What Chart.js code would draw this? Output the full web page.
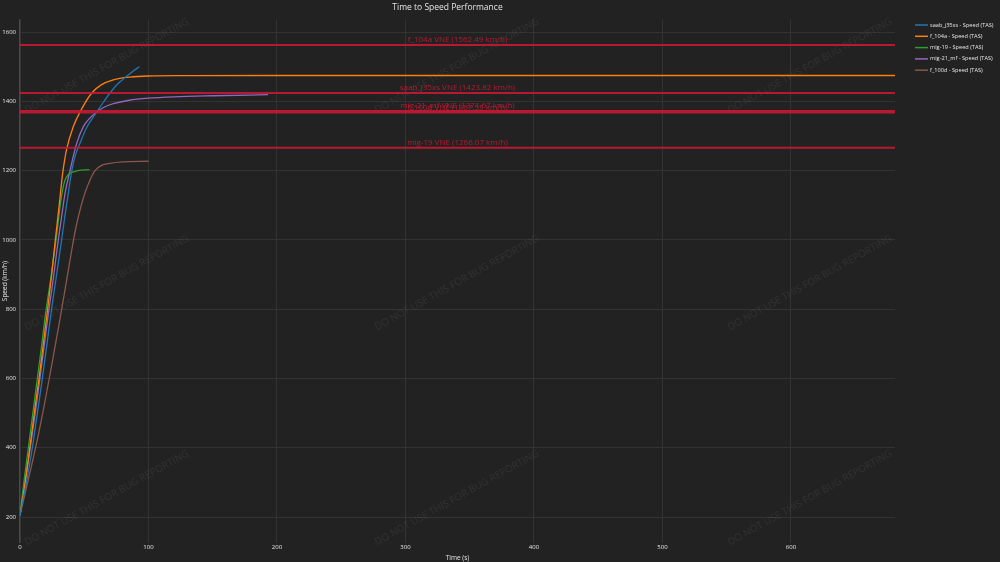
<!DOCTYPE html>
<html>
<head>
<meta charset="utf-8">
<title>Time to Speed Performance</title>
<script src="https://cdn.jsdelivr.net/npm/chart.js@4.4.0/dist/chart.umd.min.js"></script>
<style>
  html, body { margin: 0; padding: 0; background: #222222; }
  #wrap { width: 1000px; height: 562px; position: relative; }
</style>
</head>
<body>
<div id="wrap"><canvas id="speedChart"></canvas></div>
<script>
// aircraft runs (time in s, TAS in km/h)
const seriesNames = ['saab_j35xs', 'f_104a', 'mig-19', 'mig-21_mf', 'f_100d'];
const seriesColors = ['#1f77b4', '#ff7f0e', '#2ca02c', '#9467bd', '#8c564b'];

const saabTime  = [0, 5, 9.6, 13.5, 17.4, 21, 24.6, 28.5, 32.4, 35, 37.6, 40.2, 43, 46.7, 52, 59.7, 65, 70, 76, 83, 88, 93];
const saabSpeed = [205, 300, 400, 500, 600, 700, 800, 900, 1000, 1070, 1135, 1198, 1243, 1279, 1325, 1369, 1398, 1424, 1450, 1472, 1487, 1500];

const f104Time  = [0, 4, 8, 11.5, 14.8, 18, 21.5, 24.5, 27.5, 30.5, 33.2, 36.3, 41.5, 46.7, 55.8, 63.5, 72.6, 85.6, 100, 130, 200, 300, 400, 500, 600, 681];
const f104Speed = [205, 300, 410, 510, 600, 695, 800, 895, 1000, 1100, 1192, 1262, 1327, 1369, 1424, 1448, 1462, 1470, 1473, 1474, 1474.5, 1474.5, 1474.5, 1474.5, 1474.5, 1474.5];

const mig19Time  = [0, 3, 6.5, 10, 13.5, 17, 20, 24, 28, 30, 32.4, 35, 37.5, 40, 45, 54];
const mig19Speed = [205, 300, 400, 500, 600, 700, 790, 890, 1000, 1060, 1128, 1172, 1188, 1194, 1200, 1203];

const mig21Time  = [0, 4, 8, 12, 15.5, 19, 22, 26, 29.8, 32.5, 35, 38.9, 44, 49.3, 54.5, 59.7, 65, 72.6, 85, 100, 120, 150, 193];
const mig21Speed = [205, 300, 400, 505, 600, 700, 785, 890, 1000, 1070, 1133, 1200, 1277, 1327, 1352, 1369, 1382, 1393, 1403, 1409, 1413, 1416, 1419];

const f100Time  = [0, 5, 10, 15, 20, 25, 30, 35, 40, 43.5, 47, 50.5, 54.5, 58.4, 63.5, 70, 80, 100];
const f100Speed = [205, 285, 365, 450, 545, 645, 748, 855, 965, 1035, 1090, 1135, 1173, 1200, 1215, 1221, 1225, 1227];

// never-exceed speeds
const vneNames  = ['f_104a', 'saab_j35xs', 'mig-21_mf', 'f_100d', 'mig-19'];
const vneValues = [1562.49, 1423.82, 1371.67, 1367.55, 1266.07];

const xTicks = [0, 100, 200, 300, 400, 500, 600];
const yTicks = [200, 400, 600, 800, 1000, 1200, 1400, 1600];

const seriesTimes  = [saabTime, f104Time, mig19Time, mig21Time, f100Time];
const seriesSpeeds = [saabSpeed, f104Speed, mig19Speed, mig21Speed, f100Speed];

const textColor = '#e6e6e6';
const gridColor = '#333333';
const vneColor = 'rgba(200, 24, 52, 0.9)';

function pairUp(ts, vs) {
    return ts.map((t, i) => ({ x: t, y: vs[i] }));
}

// red VNE lines with their labels
const vnePlugin = {
    id: 'vneLines',
    afterDatasetsDraw(chart) {
        const { ctx, chartArea, scales } = chart;
        const midX = (chartArea.left + chartArea.right) / 2;
        ctx.save();
        vneValues.forEach((v, i) => {
            const y = scales.y.getPixelForValue(v);
            ctx.strokeStyle = vneColor;
            ctx.lineWidth = 2;
            ctx.beginPath();
            ctx.moveTo(chartArea.left, y);
            ctx.lineTo(chartArea.right, y);
            ctx.stroke();
            ctx.fillStyle = vneColor;
            ctx.font = '8px "Open Sans"';
            ctx.textAlign = 'center';
            ctx.textBaseline = 'bottom';
            ctx.fillText(vneNames[i] + ' VNE (' + v.toFixed(2) + ' km/h)', midX, y - 1);
        });
        ctx.restore();
    }
};

// faint watermark text
const watermarkPlugin = {
    id: 'watermark',
    beforeDatasetsDraw(chart) {
        const ctx = chart.ctx;
        const spots = [[107, 66], [457, 66], [810, 66], [107, 283], [457, 283], [810, 283], [107, 498], [457, 498], [810, 498]];
        ctx.save();
        ctx.fillStyle = 'rgba(255, 255, 255, 0.07)';
        ctx.font = '10px "Open Sans"';
        ctx.textAlign = 'center';
        ctx.textBaseline = 'middle';
        spots.forEach(p => {
            ctx.save();
            ctx.translate(p[0], p[1]);
            ctx.rotate(-29 * Math.PI / 180);
            ctx.fillText('DO NOT USE THIS FOR BUG REPORTING', 0, 0);
            ctx.restore();
        });
        ctx.restore();
    }
};

// legend on the right, plotly style
const legendPlugin = {
    id: 'sideLegend',
    afterDraw(chart) {
        const ctx = chart.ctx;
        ctx.save();
        ctx.font = '5.6px "Open Sans"';
        ctx.textBaseline = 'middle';
        chart.data.datasets.forEach((ds, i) => {
            const y = 25 + i * 11.3;
            ctx.strokeStyle = ds.borderColor;
            ctx.lineWidth = 1.5;
            ctx.beginPath();
            ctx.moveTo(915, y);
            ctx.lineTo(928, y);
            ctx.stroke();
            ctx.fillStyle = textColor;
            ctx.fillText(ds.label, 930, y);
        });
        ctx.restore();
    }
};

const ctx = document.getElementById('speedChart');
const speedChart = new Chart(ctx, {
    type: 'line',
    data: {
        datasets: seriesNames.map((name, i) => ({
            label: name + ' - Speed (TAS)',
            data: pairUp(seriesTimes[i], seriesSpeeds[i]),
            borderColor: seriesColors[i],
            backgroundColor: seriesColors[i],
            borderWidth: 1.3,
            pointRadius: 0,
            cubicInterpolationMode: 'monotone',
            fill: false
        }))
    },
    options: {
        responsive: true,
        maintainAspectRatio: false,
        animation: false,
        layout: { padding: { left: 0, right: 105, top: 0, bottom: 0 } },
        plugins: {
            legend: { display: false },
            tooltip: { enabled: false },
            title: {
                display: true,
                text: 'Time to Speed Performance',
                color: textColor,
                font: { family: 'Open Sans', size: 8.5, weight: 'normal' },
                padding: { top: 2, bottom: 7 }
            }
        },
        scales: {
            x: {
                type: 'linear',
                min: 0,
                max: 681,
                afterBuildTicks: scale => { scale.ticks = xTicks.map(v => ({ value: v })); },
                afterFit: scale => { scale.height = 19; },
                grid: {
                    color: c => (c.tick && c.tick.value === 0) ? '#4b4b4b' : gridColor,
                    lineWidth: c => (c.tick && c.tick.value === 0) ? 1.5 : 1,
                    drawTicks: false
                },
                border: { display: false },
                ticks: { color: textColor, font: { family: 'Open Sans', size: 6 }, padding: 1, maxRotation: 0, callback: v => String(v) },
                title: { display: true, text: 'Time (s)', color: textColor, font: { family: 'Open Sans', size: 6.5 }, padding: 0 }
            },
            y: {
                type: 'linear',
                min: 125,
                max: 1637,
                afterBuildTicks: scale => { scale.ticks = yTicks.map(v => ({ value: v })); },
                afterFit: scale => { scale.width = 20; },
                grid: { color: gridColor, drawTicks: false },
                border: { display: false },
                ticks: { color: textColor, font: { family: 'Open Sans', size: 6 }, padding: 4, callback: v => String(v) },
                title: { display: true, text: 'Speed (km/h)', color: textColor, font: { family: 'Open Sans', size: 6.5 }, padding: 1 }
            }
        }
    },
    plugins: [watermarkPlugin, vnePlugin, legendPlugin]
});
</script>
</body>
</html>
